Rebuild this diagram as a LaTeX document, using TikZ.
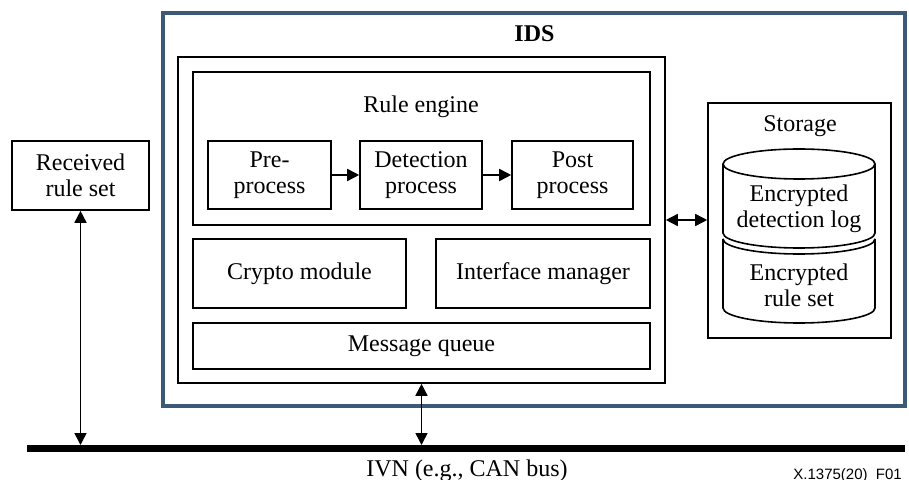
\documentclass[tikz,border=0pt]{standalone}
\usepackage{fontspec}
\setmainfont{Liberation Serif}
\newfontfamily\figsans{Liberation Sans}
\usetikzlibrary{arrows.meta}
\definecolor{idsblue}{RGB}{60,90,120}

\begin{document}
\begin{tikzpicture}[x=0.5pt,y=-0.5pt,
  font=\fontsize{12}{13}\selectfont,
  >={Triangle[length=6pt,width=6pt]},
  box/.style={draw, line width=0.8pt, inner sep=0pt, align=center},
  flow/.style={line width=0.8pt, ->},
  link/.style={line width=0.8pt, <->},
  rim/.style={line width=0.8pt},
  cap radius/.style={x radius=38pt, y radius=7.5pt},
]
\useasboundingbox (0,0) rectangle (909,480);

% IDS frame and its title
\node[box, draw=idsblue, line width=1.7pt, minimum width=371pt, minimum height=196.5pt] (ids) at (534,209.5) {};
\node[font=\fontsize{12}{13}\selectfont\bfseries, anchor=base] (idslabel) at (534.5,42) {IDS};

% IDS core
\node[box, minimum width=243.5pt, minimum height=163pt] (inner) at (421.5,220) {};
\node[box, minimum width=228.5pt, minimum height=76.5pt] (rule) at (421.5,148.5) {};
\node[anchor=base] (rulelabel) at (421,113) {Rule engine};
\node[box, minimum width=61.5pt, minimum height=34pt] (pre) at (269.5,175) {Pre-\\process};
\node[box, minimum width=61pt, minimum height=34pt] (det) at (421,175) {Detection\\process};
\node[box, minimum width=60.5pt, minimum height=34pt] (post) at (572.5,175) {Post\\process};
\node[box, minimum width=106.5pt, minimum height=34.5pt] (crypto) at (299.5,273.5) {Crypto module};
\node[box, minimum width=107pt, minimum height=34.5pt] (iface) at (543,273.5) {Interface manager};
\node[box, minimum width=228.5pt, minimum height=23pt] (mq) at (421.5,346) {Message queue};

% Storage with its two data stores
\node[box, minimum width=91.5pt, minimum height=117.5pt] (storage) at (799.5,220.5) {};
\node[anchor=base] (storagelabel) at (800,132) {Storage};
\draw[rim] (723,164) -- (723,233) arc[start angle=180, end angle=360, cap radius] -- (875,164);
\draw[rim] (799,164) ellipse [cap radius];
\draw[rim] (723,239) arc[start angle=180, end angle=360, cap radius];
\draw[rim] (723,239) -- (723,308) arc[start angle=180, end angle=360, cap radius] -- (875,239);
\node[align=center] (logtext) at (799,209) {Encrypted\\detection log};
\node[align=center] (settext) at (799,285) {Encrypted\\rule set};

% Received rule set
\node[box, minimum width=68.5pt, minimum height=34.5pt] (recv) at (80.5,175.5) {Received\\rule set};

% Bus
\coordinate (busW) at (27,448.5);
\coordinate (busE) at (905,448.5);
\coordinate (bustop) at (0,445);
\draw[line width=3.5pt] (busW) -- (busE);
\node[anchor=base] (ivn) at (467,476) {IVN (e.g., CAN bus)};
\node[anchor=base west, inner sep=0pt, font=\figsans\fontsize{7.5}{9}\selectfont] (figid) at (793,479) {X.1375(20)\ \ F01};

% Connectors
\draw[flow] (pre.east) -- (det.west);
\draw[flow] (det.east) -- (post.west);
\draw[link] (inner.east) -- (inner.east -| storage.west);
\draw[link] (recv.south) -- (recv.south |- bustop);
\draw[link] (inner.south) -- (inner.south |- bustop);
\end{tikzpicture}
\end{document}
